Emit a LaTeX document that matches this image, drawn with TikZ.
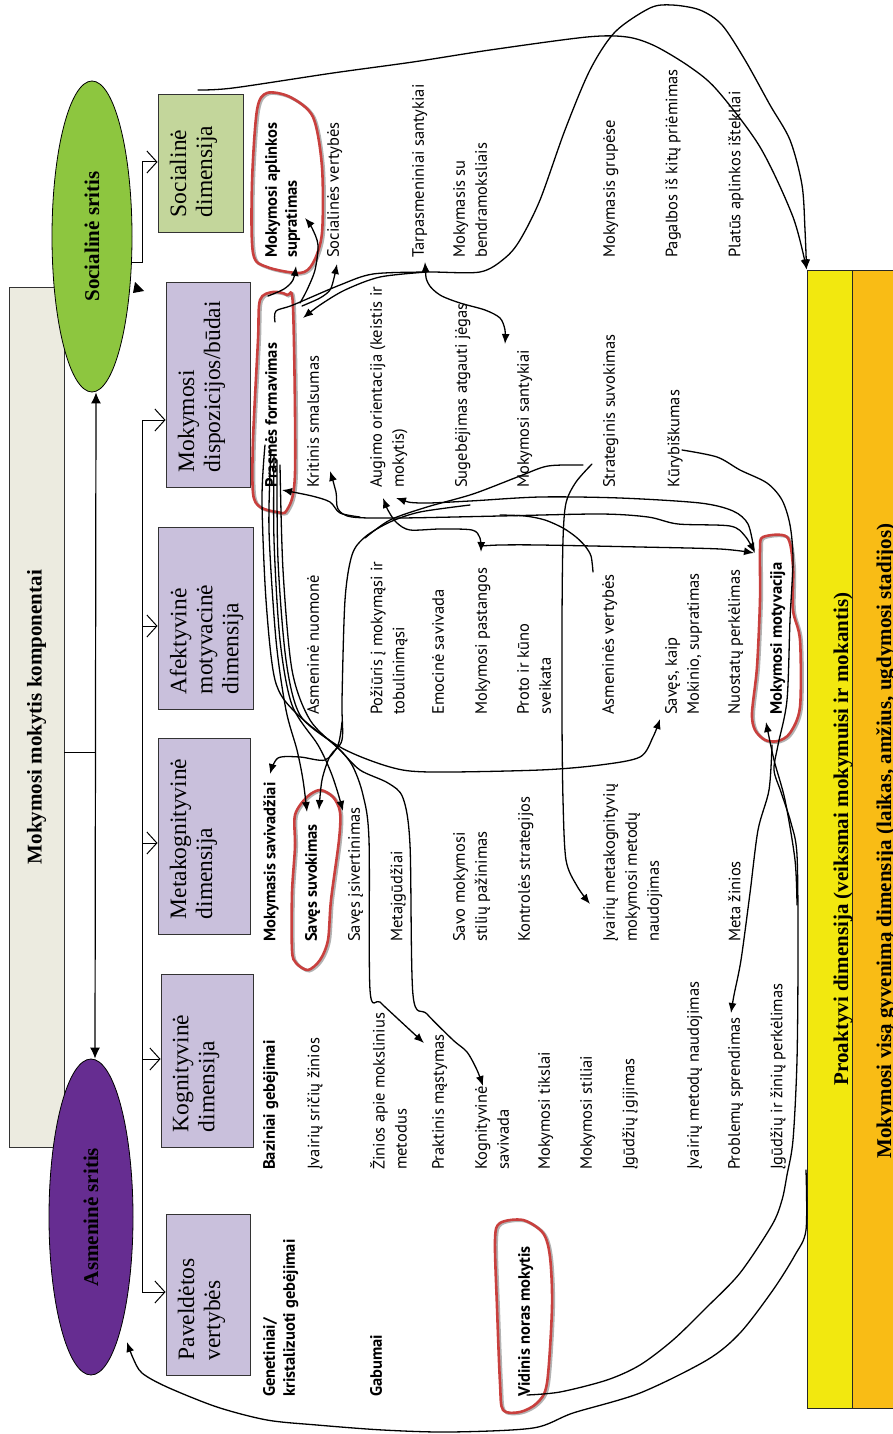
\documentclass[tikz,border=0pt]{standalone}
\usepackage{fontspec}
\setmainfont{Liberation Serif}
\setsansfont{PT Sans}
\usetikzlibrary{shapes.geometric}
\usetikzlibrary{arrows.meta}
\usetikzlibrary{calc}

\definecolor{kompfill}{HTML}{ECEBE0}
\definecolor{socgreen}{HTML}{8DC63F}
\definecolor{asmpurple}{HTML}{662D91}
\definecolor{dimlilac}{HTML}{C9C0DC}
\definecolor{socdimgreen}{HTML}{C3D69B}
\definecolor{proyellow}{HTML}{F2E80F}
\definecolor{lifeorange}{HTML}{F9BC15}
\definecolor{loopred}{HTML}{C9403E}

% hand drawn ring round a label
\newcommand{\ringloop}[1]{%
  \draw[loopshade] plot[smooth cycle] coordinates {#1};
  \draw[redloop] plot[smooth cycle] coordinates {#1};}

\begin{document}
\begin{tikzpicture}[x=1pt,y=-1pt,
    >={Latex[length=10pt,width=8pt]},
    dimbox/.style={draw=black!80, line width=0.9pt, fill=dimlilac, rotate=90, inner sep=0},
    dimtext/.style={rotate=90, anchor=north west, inner sep=0, align=left, font=\fontsize{23.5}{26}\selectfont},
    sritis/.style={ellipse, draw, line width=0.8pt, rotate=90, inner sep=0, font=\bfseries\fontsize{21}{24}\selectfont},
    colitem/.style={rotate=90, anchor=north west, inner sep=0, align=left, font=\sffamily\fontsize{16.5}{22}\selectfont},
    colitemb/.style={colitem, font=\sffamily\bfseries\fontsize{16.5}{20}\selectfont},
    bartext/.style={rotate=90, anchor=base, inner sep=0, font=\bfseries\fontsize{21}{24}\selectfont},
    treearrow/.style={line width=1pt, -{Straight Barb[length=10pt,width=22pt,line width=1pt]}},
    scrib/.style={line width=1.3pt, line cap=round, line join=round},
    loopshade/.style={draw=black!30, line width=3pt, shift={(1.5,1)}},
    redloop/.style={draw=loopred, line width=2.6pt}]
  \useasboundingbox (0,0) rectangle (892,1434);

  % left column
  \node[draw=black!80, line width=0.9pt, fill=kompfill, rotate=90, minimum width=860, minimum height=55, inner sep=0, font=\bfseries\fontsize{21}{24}\selectfont] (komp) at (36.5,717) {Mokymosi mokytis komponentai};
  \node[sritis, fill=socgreen, minimum width=311, minimum height=80] (socsrit) at (92,236.5) {Socialinė sritis};
  \node[sritis, fill=asmpurple, minimum width=316, minimum height=84] (asmsrit) at (91,1217) {Asmeninė sritis};

  \draw[line width=1pt] (komp.south |- 0,752) -- (96,752);
  \draw[line width=1.2pt, {Latex[length=11pt,width=10pt]}-{Latex[length=11pt,width=10pt]}] ([xshift=4pt]socsrit.west) -- ([xshift=4pt]asmsrit.east);
  \fill (135,282) -- (133,293) -- (144,291) -- cycle;

  % dimension boxes
  \node[dimbox, fill=socdimgreen, minimum width=138, minimum height=85] (socdim) at (200.5,163) {};
  \node[dimbox, minimum width=205, minimum height=84] (dispoz) at (208,384.5) {};
  \node[dimbox, minimum width=182, minimum height=95] (afekt) at (205.5,618) {};
  \node[dimbox, minimum width=196, minimum height=92] (metakog) at (204,836) {};
  \node[dimbox, minimum width=173, minimum height=92] (kognit) at (207,1060.5) {};
  \node[dimbox, minimum width=161, minimum height=84] (pavel) at (208,1294.5) {};

  \node[dimtext] (socdimT) at ($(socdim.north west)+(12,-15)$) {Socialinė\\dimensija};
  \node[dimtext] (dispozT) at ($(dispoz.north west)+(12,-15)$) {Mokymosi\\dispozicijos/būdai};
  \node[dimtext] (afektT) at ($(afekt.north west)+(12,-15)$) {Afektyvinė\\motyvacinė\\dimensija};
  \node[dimtext] (metakogT) at ($(metakog.north west)+(12,-15)$) {Metakognityvinė\\dimensija};
  \node[dimtext] (kognitT) at ($(kognit.north west)+(12,-15)$) {Kognityvinė\\dimensija};
  \node[dimtext] (pavelT) at ($(pavel.north west)+(12,-15)$) {Paveldėtos\\vertybės};

  % tree
  \coordinate (s0) at (131,262);
  \draw[treearrow] (s0) -- (142,262) -- (142,162) -- (socdim.north |- 142,162);
  \draw[line width=1pt] (142,420) -- (142,1292);
  \foreach \b/\y in {dispoz/420, afekt/626, metakog/843, kognit/1059, pavel/1292}
    \draw[treearrow] (142,\y) -- (\b.north |- 142,\y);

  % bottom bars
  \node[draw=black!85, line width=0.9pt, fill=lifeorange, rotate=90, minimum width=1138, minimum height=48, inner sep=0] (life) at (876,839) {};
  \node[draw=black!85, line width=0.9pt, fill=proyellow, rotate=90, minimum width=1138, minimum height=45, inner sep=0] (proakt) at (829.5,839) {};
  \node[bartext] (proaktT) at (848,839) {Proaktyvi dimensija (veiksmai mokymuisi ir mokantis)};
  \node[bartext] (lifeT) at (891,841) {Mokymosi visą gyvenimą dimensija (laikas, amžius, ugdymosi stadijos)};

  % social column
  \node[colitemb] (apl) at (265,258) {Mokymosi aplinkos\\supratimas};
  \node[colitem] (socvert) at (327,258) {Socialinės vertybės};
  \node[colitem] (tarpasm) at (412,258) {Tarpasmeniniai santykiai};
  \node[colitem] (bendr) at (453,258) {Mokymasis su\\bendramoksliais};
  \node[colitem] (grupes) at (603,258) {Mokymasis grupėse};
  \node[colitem] (pagalb) at (665,258) {Pagalbos iš kitų priėmimas};
  \node[colitem] (istekl) at (728,258) {Platūs aplinkos ištekliai};

  % dispositions column
  \node[colitemb] (prasm) at (265,488) {Prasmės formavimas};
  \node[colitem] (kritin) at (307,488) {Kritinis smalsumas};
  \node[colitem] (augimo) at (370,488) {Augimo orientacija (keistis ir\\mokytis)};
  \node[colitem] (sugeb) at (455,488) {Sugebėjimas atgauti jėgas};
  \node[colitem] (mokSant) at (517,488) {Mokymosi santykiai};
  \node[colitem] (strat) at (603,488) {Strateginis suvokimas};
  \node[colitem] (kuryb) at (667,488) {Kūrybiškumas};

  % affective column
  \node[colitem] (asmNuom) at (307,715) {Asmeninė nuomonė};
  \node[colitem] (poziur) at (370,715) {Požiūris į mokymąsi ir\\tobulinimąsi};
  \node[colitem] (emoc) at (432,715) {Emocinė savivada};
  \node[colitem] (pastang) at (475,715) {Mokymosi pastangos};
  \node[colitem] (proto) at (517,715) {Proto ir kūno\\sveikata};
  \node[colitem] (asmVert) at (602,715) {Asmeninės vertybės};
  \node[colitem] (kaip) at (665,715) {Savęs, kaip\\Mokinio, supratimas};
  \node[colitem] (nuost) at (728,715) {Nuostatų perkėlimas};
  \node[colitemb] (motyv) at (770,715) {Mokymosi motyvacija};

  % metacognitive column
  \node[colitemb] (savivad) at (263,942) {Mokymasis savivadžiai};
  \node[colitemb] (suvok) at (305,942) {Savęs suvokimas};
  \node[colitem] (isivert) at (348,942) {Savęs įsivertinimas};
  \node[colitem] (metaig) at (390,942) {Metaįgūdžiai};
  \node[colitem] (stiliu) at (453,942) {Savo mokymosi\\stilių pažinimas};
  \node[colitem] (kontr) at (518,942) {Kontrolės strategijos};
  \node[colitem] (metodai) at (603,942) {Įvairių metakognityvių\\mokymosi metodų\\naudojimas};
  \node[colitem] (metaZin) at (728,942) {Meta žinios};

  % cognitive column
  \node[colitemb] (bazin) at (263,1170) {Baziniai gebėjimai};
  \node[colitem] (sriciu) at (307,1170) {Įvairių sričių žinios};
  \node[colitem] (moksl) at (370,1170) {Žinios apie mokslinius\\metodus};
  \node[colitem] (prakt) at (432,1170) {Praktinis mąstymas};
  \node[colitem] (kogSav) at (475,1170) {Kognityvinė\\savivada};
  \node[colitem] (tiksl) at (538,1170) {Mokymosi tikslai};
  \node[colitem] (stiliai) at (580,1170) {Mokymosi stiliai};
  \node[colitem] (igijim) at (622,1170) {Įgūdžių įgijimas};
  \node[colitem] (metodu) at (687,1170) {Įvairių metodų naudojimas};
  \node[colitem] (problem) at (728,1170) {Problemų sprendimas};
  \node[colitem] (perkel) at (770,1170) {Įgūdžių ir žinių perkėlimas};

  % inherited column
  \node[colitemb] (genet) at (263,1397) {Genetiniai/\\kristalizuoti gebėjimai};
  \node[colitemb] (gabum) at (370,1397) {Gabumai};
  \node[colitemb] (vidin) at (518,1397) {Vidinis noras mokytis};

  % red rings
  \ringloop{(267,93) (290,97) (313,117) (322,167) (322,233) (313,263) (300,273) (267,267) (253,253) (252,183) (257,110)}
  \ringloop{(260,300) (273,292) (287,295) (293,307) (295,473) (287,510) (277,512) (260,507) (253,493) (253,440) (258,340)}
  \ringloop{(307,797) (320,790) (333,797) (340,812) (339,840) (331,900) (328,940) (320,960) (308,970) (296,963) (292,950) (292,893) (295,847) (295,815)}
  \ringloop{(763,537) (787,537) (793,567) (793,610) (800,640) (800,707) (790,733) (778,741) (765,740) (755,730) (752,713) (757,667) (760,600) (760,550)}
  \ringloop{(500,1223) (523,1220) (543,1233) (550,1257) (552,1307) (547,1383) (537,1403) (520,1412) (503,1410) (500,1383) (497,1307) (495,1240)}

  % scribbled links, top
  \draw[scrib,->] plot[smooth] coordinates {(198,90) (233,88) (333,73) (413,62) (490,50) (587,37) (627,37) (655,46) (690,67) (717,90) (760,147) (793,217) (proakt.north east)};
  \draw[scrib,->] plot[smooth] coordinates {(275,322) (276,311) (293,305) (340,285) (373,274) (427,272) (480,272) (505,258) (520,240) (540,200) (565,130) (590,70) (615,32) (650,8) (672,5) (700,10) (722,25) (745,60) (770,105) (790,140) (802,185) (805,230) (proakt.north east)};
  \draw[scrib,<->] plot[smooth] coordinates {(425,262) (428,283) (440,295) (460,303) (485,310) (500,318) (505,330) (505,344)};
  \draw[scrib,->] plot[smooth] coordinates {(268,296) (284,289) (293,280) (296,266)};
  \draw[scrib,->] plot[smooth] coordinates {(300,303) (307,290) (315,270) (318,245) (312,228) (305,218)};
  \draw[scrib,->] plot[smooth] coordinates {(302,306) (320,298) (330,290) (334,278) (337,264)};
  \draw[scrib,->] plot[smooth] coordinates {(427,272) (380,277) (345,290) (320,305) (303,318)};

  % scribbled links, middle
  \draw[scrib,<->] plot[smooth] coordinates {(330,471) (336,492) (338,509) (352,517) (400,518) (500,516) (600,514) (648,517) (678,524) (730,526) (745,536) (755,553)};
  \draw[scrib,->] plot[smooth] coordinates {(360,517) (340,513) (330,502) (312,496) (282,490)};
  \draw[scrib,<->] plot[smooth] coordinates {(383,498) (389,512) (397,523) (410,530) (440,529) (472,530) (480,538) (481,552)};
  \draw[scrib,<-] plot[smooth] coordinates {(396,498) (420,503) (470,501) (540,497) (620,498) (700,503) (733,511) (748,524) (754,550)};
  \draw[scrib,->] plot[smooth] coordinates {(481,546) (500,545) (540,545) (640,547) (720,549) (754,553)};
  \draw[scrib] plot[smooth] coordinates {(365,538) (390,520) (427,507) (473,494) (520,476) (548,466) (583,465)};
  \draw[scrib,->] plot[smooth] coordinates {(592,464) (576,482) (566,503) (563,540) (562,620) (562,720) (563,800) (566,860) (577,886) (590,904)};
  \draw[scrib] plot[smooth] coordinates {(593,572) (591,556) (585,546) (576,537) (563,528) (545,520) (525,516) (500,515)};

  % scribbled links, lower right
  \draw[scrib] plot[smooth] coordinates {(682,450) (717,457) (740,470) (767,483) (782,500) (790,525) (793,560) (790,620) (787,700) (778,745) (774,770) (781,792) (791,823) (797,855) (798,950) (797,1060) (793,1140) (787,1175) (782,1200) (772,1225) (740,1273) (707,1307) (673,1340) (640,1365) (607,1380) (560,1392) (527,1395)};
  \draw[scrib,->] plot[smooth] coordinates {(806,1170) (806,1230) (795,1255) (773,1290) (740,1333) (707,1360) (640,1393) (573,1413) (533,1428) (450,1432) (383,1430) (317,1425) (267,1420) (217,1407) (167,1387) (142,1373) (133,1358) (127,1342)};
  \draw[scrib,->] plot[smooth] coordinates {(772,745) (769,790) (758,830) (750,893) (741,960) (734,995) (731,1013)};
  \draw[scrib,->] plot[smooth] coordinates {(797,905) (795,860) (785,800) (774,760) (766,722)};

  % bundle out of Prasmes formavimas
  \draw[scrib,->] plot[smooth] coordinates {(265,445) (262,500) (266,600) (275,680) (295,712) (340,747) (390,767) (430,772) (540,770) (600,765) (640,757) (653,737) (660,719)};
  \draw[scrib,->] plot[smooth] coordinates {(342,722) (338,745) (325,760) (300,757) (278,758) (270,774)};
  \draw[scrib,->] plot[smooth] coordinates {(271,450) (269,530) (276,640) (286,710) (297,750) (303,780) (307,812)};
  \draw[scrib,->] plot[smooth] coordinates {(470,505) (420,512) (390,522) (365,537) (352,555) (345,600) (342,700) (342,740) (330,756) (322,780) (319,810)};
  \draw[scrib,->] plot[smooth] coordinates {(274,455) (274,540) (280,640) (292,705) (318,745) (330,770) (337,790) (343,811)};
  \draw[scrib,->] plot[smooth] coordinates {(277,460) (278,560) (286,660) (300,715) (335,745) (352,765) (363,795) (369,840) (370,990) (380,1002) (397,1018) (424,1043)};
  \draw[scrib,->] plot[smooth] coordinates {(280,465) (283,570) (292,670) (310,720) (340,750) (360,770) (388,783) (403,798) (410,845) (413,995) (427,1014) (453,1040) (467,1052) (477,1070) (483,1086)};
\end{tikzpicture}
\end{document}
